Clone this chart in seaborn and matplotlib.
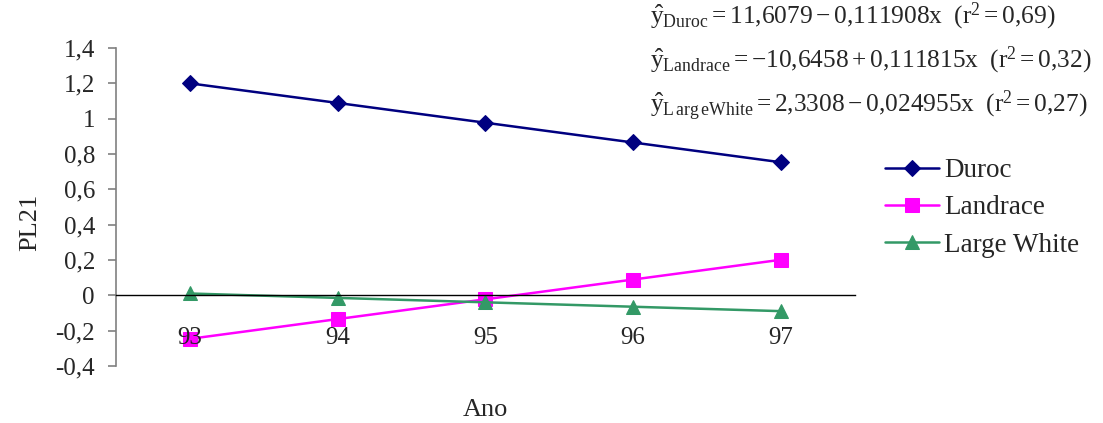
import matplotlib
matplotlib.use("Agg")
import matplotlib.pyplot as plt
import seaborn as sns
import pandas as pd

# data
anos = ["93", "94", "95", "96", "97"]
duroc = [1.20, 1.089, 0.977, 0.865, 0.753]
landrace = [-0.247, -0.135, -0.023, 0.089, 0.201]
large_white = [0.010, -0.015, -0.040, -0.065, -0.090]
racas = ["Duroc", "Landrace", "Large White"]
y_ticks = [-0.4, -0.2, 0, 0.2, 0.4, 0.6, 0.8, 1.0, 1.2, 1.4]
equacoes = [
    r"$\hat{\mathrm{y}}_{\mathrm{Duroc}} = 11{,}6079 - 0{,}111908\mathrm{x}\ \ (\mathrm{r}^{2} = 0{,}69)$",
    r"$\hat{\mathrm{y}}_{\mathrm{Landrace}} = -10{,}6458 + 0{,}111815\mathrm{x}\ \ (\mathrm{r}^{2} = 0{,}32)$",
    r"$\hat{\mathrm{y}}_{\mathrm{L\,arg\,eWhite}} = 2{,}3308 - 0{,}024955\mathrm{x}\ \ (\mathrm{r}^{2} = 0{,}27)$",
]

df = pd.DataFrame({"Ano": anos * 3,
                   "PL21": duroc + landrace + large_white,
                   "Raca": [r for r in racas for _ in anos]})

sns.set_style("white")
plt.rcParams["font.family"] = ["Liberation Serif", "DejaVu Serif"]
plt.rcParams["mathtext.fontset"] = "custom"
plt.rcParams["mathtext.rm"] = "Liberation Serif"
plt.rcParams["mathtext.it"] = "Liberation Serif:italic"

fig = plt.figure(figsize=(11.03, 4.23), dpi=100)
ax = fig.add_axes([0.105, 0.135, 0.67, 0.7515])

cores = {"Duroc": "#000080", "Landrace": "#FF00FF", "Large White": "#339966"}
marcadores = {"Duroc": "D", "Landrace": "s", "Large White": "^"}
tamanhos = {"Duroc": 8, "Landrace": 10, "Large White": 10}

for r in racas:
    sub = df[df["Raca"] == r]
    sns.lineplot(data=sub, x="Ano", y="PL21", ax=ax, color=cores[r],
                 marker=marcadores[r], markersize=tamanhos[r],
                 markeredgecolor=cores[r], linewidth=1.8, label=r, sort=False)

ax.set_xlim(-0.5, 4.5)
ax.set_ylim(-0.4, 1.4)
ax.set_yticks(y_ticks)
ax.set_yticklabels([f"{v:g}".replace(".", ",") for v in y_ticks], fontsize=18)

for s in ["top", "right"]:
    ax.spines[s].set_visible(False)
ax.spines["left"].set_color("#808080")
ax.spines["left"].set_linewidth(1.2)
ax.spines["bottom"].set_position(("data", 0))
ax.spines["bottom"].set_color("black")
ax.spines["bottom"].set_linewidth(1.0)
ax.tick_params(axis="y", direction="out", length=6, width=1.2, color="#808080", pad=9, left=True)
ax.tick_params(axis="x", length=0, pad=23, labelsize=18)
ax.xaxis.set_zorder(5)  # year labels over the markers, as in the original
ax.grid(False)

ax.set_xlabel("Ano", fontsize=19)
ax.xaxis.set_label_coords(0.5, -0.14)
ax.xaxis.label.set_va("center")
ax.set_ylabel("PL21", fontsize=19)
ax.yaxis.set_label_coords(-0.116, 0.45)
ax.yaxis.label.set_va("center")

leg = ax.legend(loc="center left", bbox_to_anchor=(1.0406, 0.497), frameon=False,
                fontsize=19.5, handlelength=2.0, handletextpad=0.2, labelspacing=0.45,
                borderpad=0, borderaxespad=0)

for i, eq in enumerate(equacoes):
    fig.text(0.589, 1 - (23 + 44.5 * i) / 423, eq, fontsize=18.3, va="baseline", ha="left")

fig.savefig("out.png", dpi=100)
